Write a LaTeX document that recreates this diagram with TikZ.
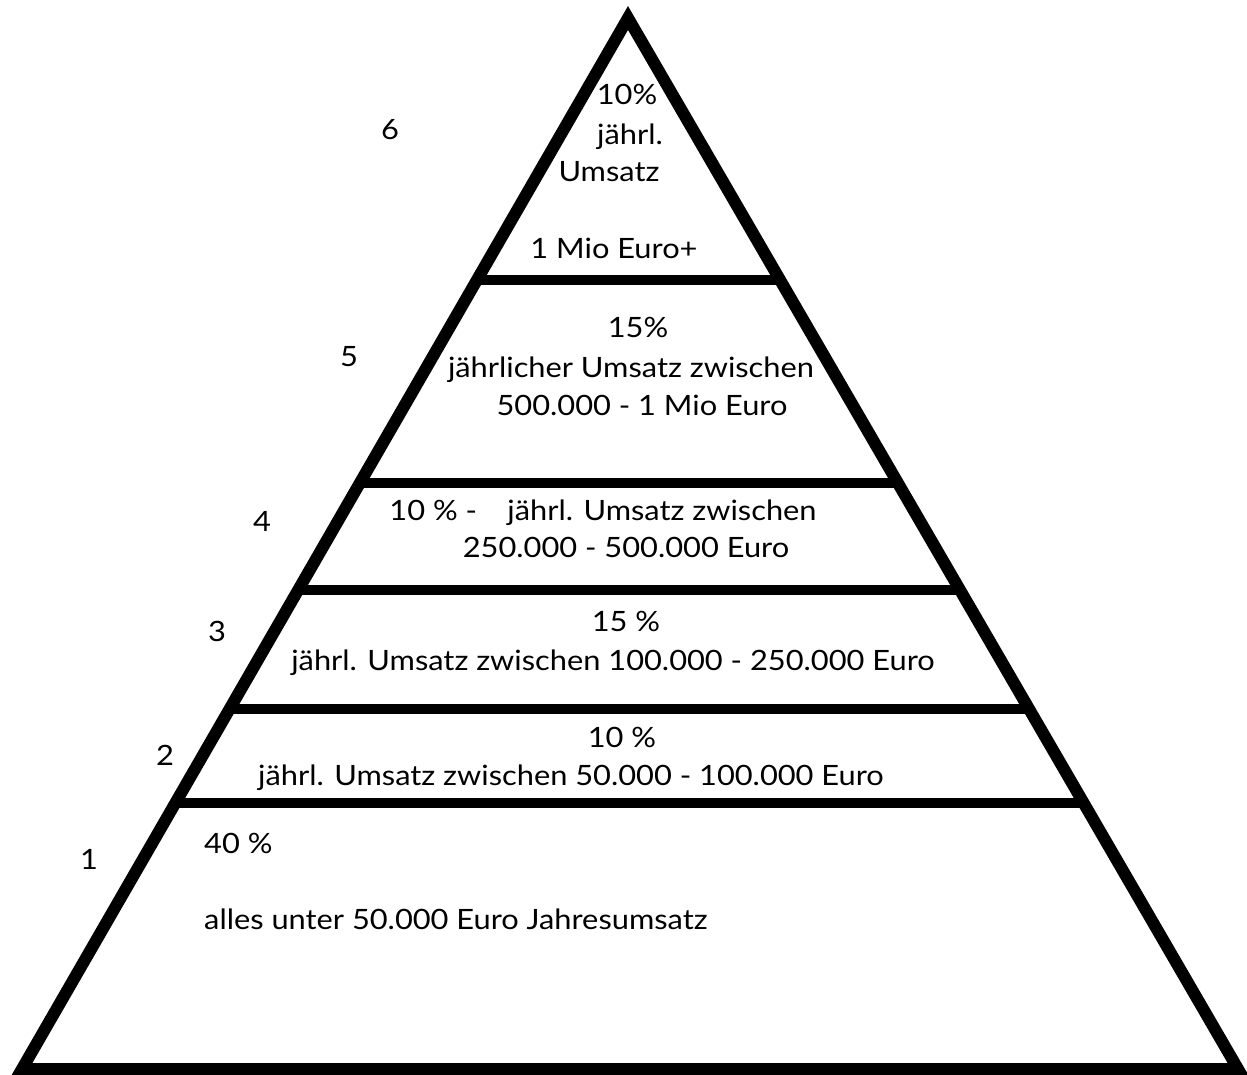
\documentclass[tikz,border=0pt]{standalone}
\usepackage{fontspec}
\setmainfont[FakeStretch=1.1]{Lato}
\usetikzlibrary{calc}

\begin{document}
\begin{tikzpicture}[x=1pt,y=-1pt,font=\fontsize{28}{38}\selectfont,lbl/.style={inner sep=0pt,text height=19pt,text depth=0pt},num/.style={lbl},edge/.style={line width=12pt,line join=miter},tier/.style={line width=10pt}]
\useasboundingbox (0,0) rectangle (1247,1074);
\coordinate (apex) at (628,18);
\coordinate (bl) at (22,1069);
\coordinate (br) at (1238,1069);
\draw[edge] (bl)--(apex)--(br)--cycle;
% tier lines
\foreach \y/\n in {280/a,483/b,590/c,709/d,803/e}{
  \coordinate (l\n) at ($(apex)!{(\y-18)/1051}!(bl)$);
  \coordinate (r\n) at ($(apex)!{(\y-18)/1051}!(br)$);
  \draw[tier] (l\n)--(r\n);
}
% level numbers
\node[num] (n6) at (390,130) {6};
\node[num] (n5) at (349,357) {5};
\node[num] (n4) at (262,522) {4};
\node[num] (n3) at (217,632) {3};
\node[num] (n2) at (165,756) {2};
\node[num] (n1) at (89,860) {1};
% tier 6
\node[lbl] (t6a) at (627,95) {10\%};
\node[lbl] (t6b) at (630,135) {jährl.};
\node[lbl] (t6c) at (609,172) {Umsatz};
\node[lbl] (t6d) at (614,249) {1 Mio Euro+};
% tier 5
\node[lbl] (t5a) at (638,328) {15\%};
\node[lbl] (t5b) at (631,368) {jährlicher Umsatz zwischen};
\node[lbl] (t5c) at (642,406) {500.000 - 1 Mio Euro};
% tier 4
\node[lbl] (t4a) at (603,511) {10 \% -\hspace{0.8em} jährl. Umsatz zwischen};
\node[lbl] (t4b) at (626,548) {250.000 - 500.000 Euro};
% tier 3
\node[lbl] (t3a) at (626,622) {15 \%};
\node[lbl] (t3b) at (613,661) {jährl. Umsatz zwischen 100.000 - 250.000 Euro};
% tier 2
\node[lbl] (t2a) at (622,738) {10 \%};
\node[lbl] (t2b) at (571,776) {jährl. Umsatz zwischen 50.000 - 100.000 Euro};
% tier 1
\node[lbl,anchor=west] (t1a) at (204,844) {40 \%};
\node[lbl,anchor=west] (t1b) at (204,920) {alles unter 50.000 Euro Jahresumsatz};
\end{tikzpicture}
\end{document}
